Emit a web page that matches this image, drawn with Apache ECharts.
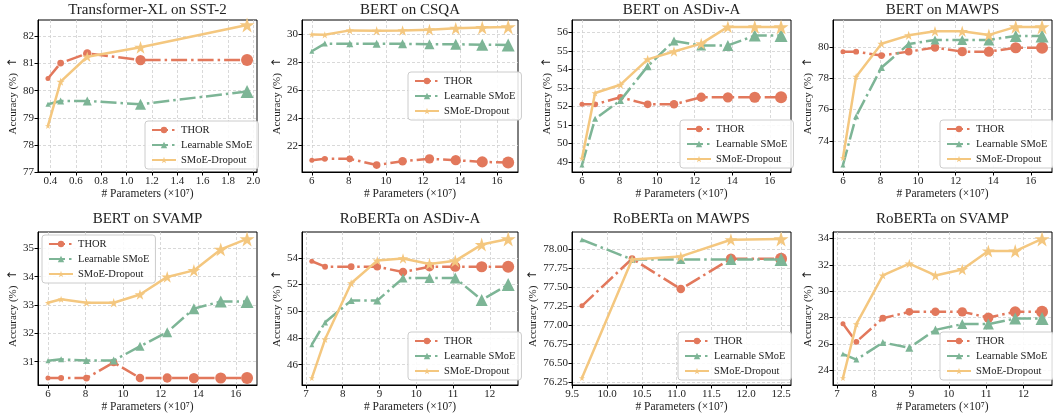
<!DOCTYPE html>
<html>
<head>
    <meta charset="UTF-8">
    <script src="https://cdn.jsdelivr.net/npm/echarts@6.0.0/dist/echarts.min.js"></script>
    <style>html, body { margin: 0; padding: 0; background: #fff; }</style>
</head>
<body>
<div id="main" style="width: 1053px; height: 417px;"></div>

<script type="text/javascript">
    // parameter counts (x10^7)
    var txlX = [0.38, 0.48, 0.69, 1.11, 1.95];
    var bertX = [6.0, 6.7, 8.05, 9.5, 10.9, 12.35, 13.77, 15.2, 16.6];
    var robertaX = [7.16, 7.52, 8.23, 8.94, 9.64, 10.36, 11.06, 11.78, 12.5];
    var robertaMawpsX = [9.64, 10.36, 11.06, 11.78, 12.5];

    // accuracy (%)
    var sst2Thor = [80.45, 81.02, 81.37, 81.13, 81.13];
    var sst2Learn = [79.5, 79.62, 79.62, 79.5, 79.97];
    var sst2Drop = [78.7, 80.33, 81.25, 81.6, 82.42];

    var csqaThor = [20.95, 21.05, 21.05, 20.6, 20.88, 21.05, 20.95, 20.83, 20.78];
    var csqaLearn = [28.8, 29.35, 29.33, 29.33, 29.33, 29.3, 29.3, 29.27, 29.25];
    var csqaDrop = [30.0, 29.98, 30.3, 30.27, 30.3, 30.35, 30.45, 30.5, 30.55];

    var asdivThor = [52.12, 52.12, 52.5, 52.12, 52.12, 52.5, 52.5, 52.5, 52.5];
    var asdivLearn = [48.84, 51.34, 52.33, 54.18, 55.54, 55.3, 55.3, 55.83, 55.83];
    var asdivDrop = [49.2, 52.73, 53.18, 54.55, 54.97, 55.4, 56.3, 56.3, 56.3];

    var mawpsThor = [79.7, 79.7, 79.45, 79.7, 79.96, 79.7, 79.7, 79.95, 79.95];
    var mawpsLearn = [72.45, 75.57, 78.68, 80.19, 80.45, 80.45, 80.45, 80.7, 80.7];
    var mawpsDrop = [72.9, 78.1, 80.2, 80.74, 81.0, 81.0, 80.77, 81.28, 81.28];

    var svampThor = [30.42, 30.42, 30.42, 30.97, 30.42, 30.42, 30.42, 30.42, 30.42];
    var svampLearn = [31.03, 31.08, 31.04, 31.04, 31.54, 32.04, 32.87, 33.12, 33.12];
    var svampDrop = [33.08, 33.2, 33.08, 33.08, 33.37, 33.99, 34.22, 34.96, 35.33];

    var rAsdivThor = [53.75, 53.34, 53.34, 53.34, 52.94, 53.34, 53.34, 53.34, 53.34];
    var rAsdivLearn = [47.5, 49.17, 50.8, 50.8, 52.49, 52.49, 52.49, 50.85, 52.0];
    var rAsdivDrop = [45.0, 47.9, 52.1, 53.8, 53.95, 53.55, 53.78, 55.0, 55.42];

    var rMawpsThor = [77.25, 77.87, 77.47, 77.87, 77.87];
    var rMawpsLearn = [78.12, 77.86, 77.86, 77.86, 77.86];
    var rMawpsDrop = [76.3, 77.86, 77.9, 78.12, 78.13];

    var rSvampThor = [27.52, 26.15, 27.95, 28.43, 28.43, 28.43, 28.0, 28.43, 28.43];
    var rSvampLearn = [25.22, 24.8, 26.1, 25.7, 27.06, 27.5, 27.5, 27.92, 27.92];
    var rSvampDrop = [23.4, 27.5, 31.2, 32.1, 31.2, 31.65, 33.05, 33.05, 33.97];

    // tick labels
    var txlXTicks = [0.4, 0.6, 0.8, 1.0, 1.2, 1.4, 1.6, 1.8, 2.0];
    var bertXTicks = [6, 8, 10, 12, 14, 16];
    var robertaXTicks = [7, 8, 9, 10, 11, 12];
    var rMawpsXTicks = [9.5, 10.0, 10.5, 11.0, 11.5, 12.0, 12.5];
    var sst2YTicks = [77, 78, 79, 80, 81, 82];
    var csqaYTicks = [22, 24, 26, 28, 30];
    var asdivYTicks = [49, 50, 51, 52, 53, 54, 55, 56];
    var mawpsYTicks = [74, 76, 78, 80];
    var svampYTicks = [31, 32, 33, 34, 35];
    var rAsdivYTicks = [46, 48, 50, 52, 54];
    var rMawpsYTicks = [76.25, 76.5, 76.75, 77.0, 77.25, 77.5, 77.75, 78.0];
    var rSvampYTicks = [24, 26, 28, 30, 32, 34];

    var names = ['THOR', 'Learnable SMoE', 'SMoE-Dropout'];

    var panels = [
        {title: 'Transformer-XL on SST-2', x: txlX, ys: [sst2Thor, sst2Learn, sst2Drop], xt: txlXTicks, yt: sst2YTicks, xd: 1, yd: 0, yMin: 77},
        {title: 'BERT on CSQA', x: bertX, ys: [csqaThor, csqaLearn, csqaDrop], xt: bertXTicks, yt: csqaYTicks, xd: 0, yd: 0},
        {title: 'BERT on ASDiv-A', x: bertX, ys: [asdivThor, asdivLearn, asdivDrop], xt: bertXTicks, yt: asdivYTicks, xd: 0, yd: 0},
        {title: 'BERT on MAWPS', x: bertX, ys: [mawpsThor, mawpsLearn, mawpsDrop], xt: bertXTicks, yt: mawpsYTicks, xd: 0, yd: 0},
        {title: 'BERT on SVAMP', x: bertX, ys: [svampThor, svampLearn, svampDrop], xt: bertXTicks, yt: svampYTicks, xd: 0, yd: 0},
        {title: 'RoBERTa on ASDiv-A', x: robertaX, ys: [rAsdivThor, rAsdivLearn, rAsdivDrop], xt: robertaXTicks, yt: rAsdivYTicks, xd: 0, yd: 0},
        {title: 'RoBERTa on MAWPS', x: robertaMawpsX, ys: [rMawpsThor, rMawpsLearn, rMawpsDrop], xt: rMawpsXTicks, yt: rMawpsYTicks, xd: 1, yd: 2},
        {title: 'RoBERTa on SVAMP', x: robertaX, ys: [rSvampThor, rSvampLearn, rSvampDrop], xt: robertaXTicks, yt: rSvampYTicks, xd: 0, yd: 0}
    ];

    // plot boxes [left, top, width, height], title top, legend [left, top], y name gap
    var layout = [
        {box: [38, 20, 219, 152], tt: 3, leg: [145, 121], gap: 19},
        {box: [302, 20, 216, 152], tt: 3, leg: [408, 72], gap: 19},
        {box: [572, 20, 219, 152], tt: 3, leg: [680, 120], gap: 19},
        {box: [833, 20, 219, 152], tt: 3, leg: [940, 120], gap: 19},
        {box: [38, 232, 219, 153], tt: 212, leg: [42, 235], gap: 19},
        {box: [302, 232, 216, 153], tt: 212, leg: [408, 332], gap: 19},
        {box: [572, 232, 219, 153], tt: 212, leg: [678, 332], gap: 32},
        {box: [833, 232, 219, 153], tt: 212, leg: [940, 332], gap: 19}
    ];

    var FONT = "'Liberation Serif', 'DejaVu Serif', serif";
    var colors = ['#E2785C', '#7DB596', '#F4C77F'];
    var dashDot = [16, 4, 2.5, 4];
    var star = 'path://M0,-100 L22.45,-30.9 L95.1,-30.9 L36.3,11.8 L58.8,80.9 L0,38.2 L-58.8,80.9 L-36.3,11.8 L-95.1,-30.9 L-22.45,-30.9 Z';
    var symbols = ['circle', 'triangle', star];
    var sizeRange = [[5, 12], [5, 13], [6, 15]];

    function pad(vals) {
        var lo = Math.min.apply(null, vals), hi = Math.max.apply(null, vals);
        var m = (hi - lo) * 0.05;
        return [lo - m, hi + m];
    }

    function fmt(d) {
        return function (v) { return v.toFixed(d); };
    }

    var titles = [], grids = [], xAxes = [], yAxes = [], legends = [], series = [];

    panels.forEach(function (p, i) {
        var b = layout[i].box;
        var xr = pad(p.x);
        var yr = pad(p.ys[0].concat(p.ys[1], p.ys[2]));
        if (p.yMin !== undefined) yr[0] = p.yMin;

        titles.push({
            text: p.title, left: b[0] + b[2] / 2, top: layout[i].tt, textAlign: 'center', padding: 0,
            textStyle: {fontFamily: FONT, fontSize: 15, fontWeight: 'normal', color: '#222'}
        });
        grids.push({
            left: b[0], top: b[1], width: b[2], height: b[3],
            show: true, borderColor: '#000', borderWidth: 1, backgroundColor: 'transparent'
        });
        xAxes.push({
            type: 'value', gridIndex: i, min: xr[0], max: xr[1],
            name: '# Parameters (×10⁷)', nameLocation: 'middle', nameGap: 16,
            nameTextStyle: {fontFamily: FONT, fontSize: 11.5, color: '#222'},
            axisLine: {show: true, lineStyle: {color: '#000', width: 1}},
            axisTick: {show: true, inside: false, length: 3.5, customValues: p.xt, lineStyle: {color: '#000'}},
            axisLabel: {customValues: p.xt, margin: 4, fontFamily: FONT, fontSize: 11, color: '#222', formatter: fmt(p.xd)},
            splitLine: {show: true, lineStyle: {color: '#cfcfcf', type: [3, 2], width: 0.8}}
        });
        yAxes.push({
            type: 'value', gridIndex: i, min: yr[0], max: yr[1],
            name: 'Accuracy (%)  {a|↑}', nameLocation: 'middle', nameGap: layout[i].gap, nameRotate: 90,
            nameTextStyle: {fontFamily: FONT, fontSize: 11, color: '#222',
                rich: {a: {fontFamily: "'DejaVu Sans', sans-serif", fontSize: 12, color: '#222'}}},
            axisLine: {show: true, lineStyle: {color: '#000', width: 1}},
            axisTick: {show: true, inside: false, length: 3.5, customValues: p.yt, lineStyle: {color: '#000'}},
            axisLabel: {customValues: p.yt, margin: 4, fontFamily: FONT, fontSize: 11, color: '#222', formatter: fmt(p.yd)},
            splitLine: {show: true, lineStyle: {color: '#cfcfcf', type: [3, 2], width: 0.8}}
        });
        legends.push({
            left: layout[i].leg[0], top: layout[i].leg[1], orient: 'vertical', data: names,
            itemWidth: 24, itemHeight: 8, itemGap: 3, padding: [3, 6, 3, 6],
            backgroundColor: 'rgba(255,255,255,0.85)', borderColor: '#cccccc', borderWidth: 1, borderRadius: 3,
            selectedMode: false,
            textStyle: {fontFamily: FONT, fontSize: 10.5, color: '#222', lineHeight: 12}
        });

        p.ys.forEach(function (ys, k) {
            var n = ys.length;
            series.push({
                name: names[k], type: 'line', xAxisIndex: i, yAxisIndex: i,
                data: p.x.map(function (v, j) { return [v, ys[j]]; }),
                symbol: symbols[k],
                symbolSize: function (val, params) {
                    var t = params.dataIndex / (n - 1);
                    return sizeRange[k][0] + (sizeRange[k][1] - sizeRange[k][0]) * t;
                },
                showSymbol: true,
                lineStyle: {color: colors[k], width: 2.5, type: k === 2 ? 'solid' : dashDot},
                itemStyle: {color: colors[k]},
                emphasis: {disabled: true},
                z: 2 + k
            });
        });
    });

    var myChart = echarts.init(document.getElementById('main'));
    myChart.setOption({
        animation: false,
        backgroundColor: '#fff',
        title: titles,
        grid: grids,
        xAxis: xAxes,
        yAxis: yAxes,
        legend: legends,
        tooltip: {show: false},
        series: series
    });
</script>
</body>
</html>
